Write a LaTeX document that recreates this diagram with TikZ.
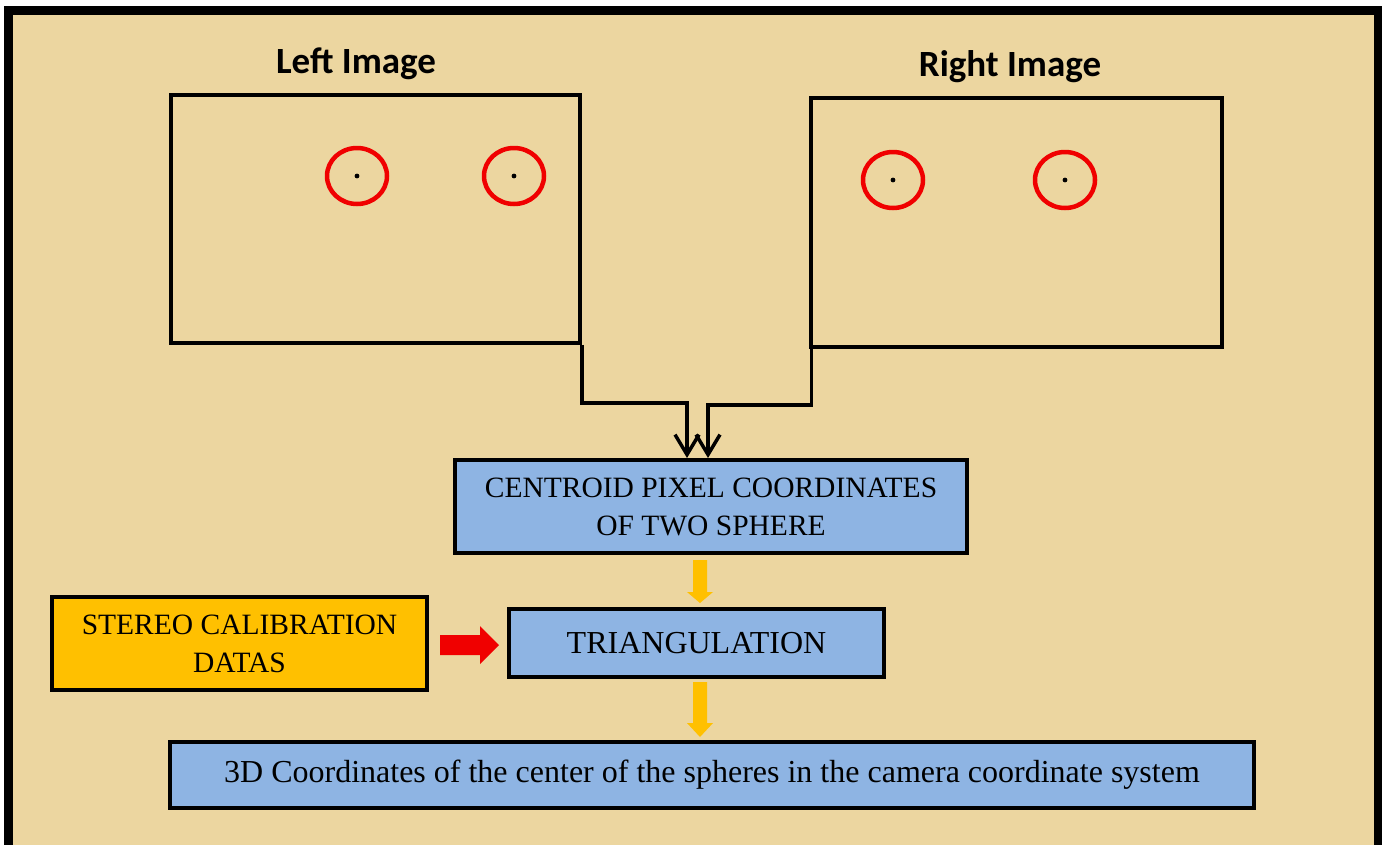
\documentclass[tikz,border=0pt]{standalone}
\usepackage{fontspec}
\setmainfont{Liberation Serif}
\newfontfamily\headfont{Carlito}
\usetikzlibrary{arrows.meta,calc,shapes.geometric}
\definecolor{papyrus}{RGB}{236,214,160}
\definecolor{boxblue}{RGB}{142,180,227}
\definecolor{boxorange}{RGB}{255,192,0}
\definecolor{ringred}{RGB}{240,0,0}
\tikzset{
  photo/.style={draw=black,line width=3.5pt,inner sep=0pt},
  ring/.style={draw=ringred,line width=4.5pt,ellipse,inner sep=0pt,minimum width=60pt,minimum height=56pt},
  stage/.style={draw=black,line width=4pt,fill=boxblue,inner sep=0pt,align=center,font=\fontsize{29.5}{38}\selectfont},
  bigstage/.style={stage,font=\fontsize{32}{38}\selectfont},
  calib/.style={stage,fill=boxorange},
  heading/.style={font=\headfont\bfseries\fontsize{37}{40}\selectfont},
  feed/.style={line width=3.5pt,-{Straight Barb[length=20pt,width=24pt,line width=3.5pt]}},
  flow/.style={fill=boxorange,draw=none},
}
\begin{document}
\begin{tikzpicture}[x=1pt,y=-1pt]
\useasboundingbox (0,0) rectangle (1382,844);
% page background and outer frame
\fill[white] (0,0) rectangle (1382,844);
\fill[papyrus] (8,10) rectangle (1378,860);
\draw[line width=9pt] (8,10) rectangle (1378,860);

% the two camera views
\node[heading] (lt) at (356,64) {Left Image};
\node[heading] (rt) at (1010,67) {Right Image};
\node[photo,minimum width=409pt,minimum height=248pt] (limg) at (375.5,219) {};
\node[photo,minimum width=411pt,minimum height=249pt] (rimg) at (1016.5,222.5) {};

% detected spheres with their centroids
\foreach \n/\x/\y in {l1/357/176,l2/514/176,r1/893/180,r2/1065/180}{
  \node[ring] (\n) at (\x,\y) {};
  \fill (\n.center) circle (2.4pt);
}

% processing stages
\node[stage,minimum width=512pt,minimum height=93pt] (cent) at (711,506.5)
  {CENTROID PIXEL COORDINATES\\OF TWO SPHERE};
\node[calib,minimum width=375pt,minimum height=93pt] (calib) at (239.5,643.5)
  {STEREO CALIBRATION\\DATAS};
\node[bigstage,minimum width=375pt,minimum height=68pt] (tri) at (696.5,643)
  {TRIANGULATION};
\node[bigstage,minimum width=1084pt,minimum height=66pt] (out) at (712,775)
  {3D Coordinates of the center of the spheres in the camera coordinate system};

% image views feeding the centroid stage
\coordinate (lin) at ($(cent.north)+(-24,0)$);
\coordinate (rin) at ($(cent.north)+(-3,0)$);
\draw[feed] (limg.south east) -- ++(0,58) -| (lin);
\draw[feed] ($(rimg.south west)+(2,0)$) -- ++(0,56) -| (rin);

% block arrows between stages
\coordinate (a1) at (700,560);
\fill[flow] ($(a1)+(-7,0)$) -- ++(0,32) -- ++(-6,0) -- (700,603) -- ++(13,-11) -- ++(-6,0) -- ++(0,-32) -- cycle;
\coordinate (a2) at (700,682);
\fill[flow] ($(a2)+(-7,0)$) -- ++(0,41) -- ++(-6,0) -- (700,737) -- ++(13,-14) -- ++(-6,0) -- ++(0,-41) -- cycle;
\fill[ringred] (440,635) -- (480,635) -- (480,626) -- (499,645) -- (480,664) -- (480,655) -- (440,655) -- cycle;
\end{tikzpicture}
\end{document}
